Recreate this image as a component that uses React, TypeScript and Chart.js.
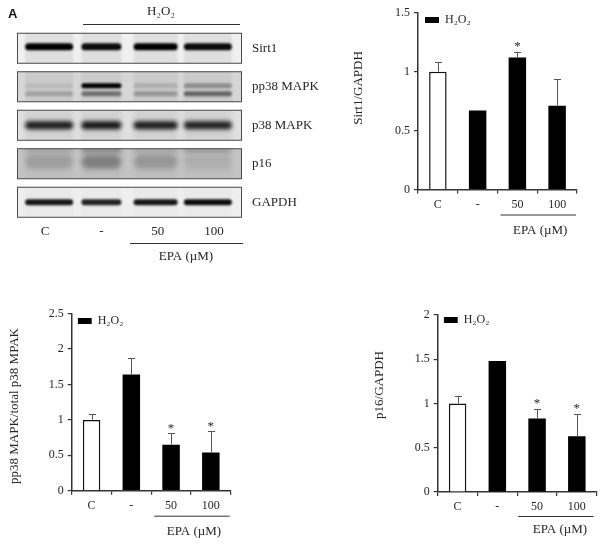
import React, { useEffect, useRef } from "react";
import { Chart, registerables } from "chart.js";

Chart.register(...registerables);

const SERIF = '"Liberation Serif", "Times New Roman", serif';
const INK = "#262626";

// ---- bar chart values ----
const doseLabels = ["C", "-", "50", "100"];

const sirt1Control = [1.0, null, null, null];
const sirt1Treated = [null, 0.67, 1.12, 0.71];
const sirt1ErrorTop = [1.085, 0.67, 1.17, 0.935];
const sirt1Stars = [false, false, true, false];

const ppControl = [1.0, null, null, null];
const ppTreated = [null, 1.64, 0.65, 0.54];
const ppErrorTop = [1.09, 1.88, 0.81, 0.84];
const ppStars = [false, false, true, true];

const p16Control = [1.0, null, null, null];
const p16Treated = [null, 1.48, 0.83, 0.63];
const p16ErrorTop = [1.085, 1.48, 0.94, 0.885];
const p16Stars = [false, false, true, true];

// ---- blot values (band darkness, 0..1, per lane) ----
const blotProteins = ["Sirt1", "pp38 MAPK", "p38 MAPK", "p16", "GAPDH"];
const sirt1Band = [1, 0.95, 1, 0.95];
const ppUpperBand = [0.08, 1, 0.14, 0.3];
const ppLowerBand = [0.2, 0.45, 0.26, 0.5];
const p38Band = [0.88, 0.9, 0.88, 0.85];
const p16TopBand = [0.4, 0.8, 0.35, 0.55];
const p16MainBand = [0.16, 0.32, 0.2, 0.08];
const gapdhBand = [0.9, 0.85, 0.9, 0.95];

const laneShift = [4, 0, -2, -6];
const laneWidth = [48, 40, 44, 48];

const blotRows = [
  { bg: "#f0f0f0", haze: 0.07, blur: 1.2, bands: [{ v: sirt1Band, dy: -1.5, h: 7 }] },
  { bg: "#d6d6d6", haze: 0.05, blur: 1.3, bands: [{ v: ppUpperBand, dy: -1, h: 5 }, { v: ppLowerBand, dy: 7, h: 5 }] },
  { bg: "#e0e0e0", haze: 0.06, blur: 2, bands: [{ v: p38Band, dy: 0, h: 8 }] },
  { bg: "#c4c4c4", haze: 0.03, blur: 2.5, bands: [{ v: p16TopBand, dy: -14, h: 2 }, { v: p16MainBand, dy: -2, h: 14 }] },
  { bg: "#efefef", haze: 0.02, blur: 1.2, bands: [{ v: gapdhBand, dy: 0, h: 6 }] },
];

const blotPlugin = {
  id: "blot",
  beforeDatasetsDraw(chart: any) {
    const { ctx, chartArea, scales } = chart;
    const half = 15.5;
    blotRows.forEach((row, r) => {
      const yc = scales.y.getPixelForValue(r);
      const x0 = chartArea.left;
      const w = chartArea.right - chartArea.left;
      ctx.save();
      ctx.beginPath();
      ctx.rect(x0, yc - half, w, half * 2);
      ctx.clip();
      ctx.fillStyle = row.bg;
      ctx.fillRect(x0, yc - half, w, half * 2);
      ctx.filter = `blur(${row.blur}px)`;
      doseLabels.forEach((_, lane) => {
        const cx = scales.x.getPixelForValue(lane) + laneShift[lane];
        const lw = laneWidth[lane];
        ctx.fillStyle = `rgba(0,0,0,${row.haze})`;
        ctx.fillRect(cx - lw / 2, yc - half, lw, half * 2);
        row.bands.forEach((b) => {
          ctx.fillStyle = `rgba(0,0,0,${b.v[lane]})`;
          ctx.beginPath();
          ctx.roundRect(cx - lw / 2, yc + b.dy - b.h / 2, lw, b.h, b.h / 2);
          ctx.fill();
        });
      });
      ctx.restore();
      ctx.save();
      ctx.strokeStyle = "#4a4a4a";
      ctx.lineWidth = 1;
      ctx.strokeRect(x0 + 0.5, yc - half + 0.5, w - 1, half * 2 - 1);
      ctx.restore();
    });
    // panel heading
    ctx.save();
    ctx.fillStyle = "#111";
    ctx.font = `bold 13px "Liberation Sans", sans-serif`;
    ctx.textAlign = "left";
    ctx.textBaseline = "middle";
    ctx.fillText("A", 8, 14);
    ctx.fillStyle = INK;
    ctx.font = `13px ${SERIF}`;
    ctx.textAlign = "center";
    ctx.fillText("H₂O₂", 161, 12);
    ctx.fillText("EPA (µM)", 186, 257);
    ctx.strokeStyle = "#333";
    ctx.lineWidth = 1;
    ctx.beginPath();
    ctx.moveTo(83, 24.5);
    ctx.lineTo(240, 24.5);
    ctx.moveTo(130, 243.5);
    ctx.lineTo(243, 243.5);
    ctx.stroke();
    ctx.restore();
  },
};

const annotatePlugin = {
  id: "annotate",
  afterLayout(chart: any) {
    const o = chart.options.plugins.annotate;
    const l = chart.legend;
    l.left += o.legendDx;
    l.right += o.legendDx;
    l.top += o.legendDy;
    l.bottom += o.legendDy;
  },
  afterDatasetsDraw(chart: any) {
    const o = chart.options.plugins.annotate;
    const { ctx, scales } = chart;
    const { x, y } = scales;
    ctx.save();
    ctx.strokeStyle = "#555";
    ctx.lineWidth = 1;
    o.errorTop.forEach((top: number, i: number) => {
      const base =
        (chart.data.datasets[0].data[i] ?? chart.data.datasets[1].data[i]) as number;
      if (top <= base) return;
      const px = Math.round(x.getPixelForValue(i)) + 0.5;
      const pt = Math.round(y.getPixelForValue(top)) + 0.5;
      ctx.beginPath();
      ctx.moveTo(px, y.getPixelForValue(base));
      ctx.lineTo(px, pt);
      ctx.moveTo(px - 3.5, pt);
      ctx.lineTo(px + 3.5, pt);
      ctx.stroke();
    });
    ctx.fillStyle = INK;
    ctx.font = `13px ${SERIF}`;
    ctx.textAlign = "center";
    ctx.textBaseline = "middle";
    o.stars.forEach((s: boolean, i: number) => {
      if (!s) return;
      ctx.fillText("*", x.getPixelForValue(i), y.getPixelForValue(o.errorTop[i]) - 5);
    });
    // EPA bracket
    const cat = x.getPixelForValue(1) - x.getPixelForValue(0);
    const x0 = x.getPixelForValue(2) - cat / 2 + 3 - o.bracketInset;
    const x1 = x.getPixelForValue(3) + cat / 2 - 1 - o.bracketInset;
    ctx.strokeStyle = "#333";
    ctx.beginPath();
    ctx.moveTo(x0, y.bottom + 25.5 - o.bracketLift);
    ctx.lineTo(x1, y.bottom + 25.5 - o.bracketLift);
    ctx.stroke();
    ctx.font = `13px ${SERIF}`;
    ctx.fillText("EPA (µM)", (x0 + x1) / 2 + 2 + o.bracketInset, y.bottom + 41 - o.bracketLift * 3);
    // y title
    ctx.save();
    ctx.translate(o.titleX, o.titleY);
    ctx.rotate(-Math.PI / 2);
    ctx.fillText(o.yTitle, 0, 0);
    ctx.restore();
    ctx.restore();
  },
};

function barConfig(p: any) {
  return {
    type: "bar",
    plugins: [annotatePlugin],
    data: {
      labels: doseLabels,
      datasets: [
        { label: "Control", data: p.control, backgroundColor: "#ffffff", borderColor: "#111", borderWidth: 1.5 },
        { label: "H₂O₂", data: p.treated, backgroundColor: "#000000", borderColor: "#000", borderWidth: 0 },
      ],
    },
    options: {
      animation: false,
      responsive: false,
      devicePixelRatio: 1,
      layout: { padding: { top: p.top, right: p.w - p.right, left: 0, bottom: 0 } },
      datasets: { bar: { barPercentage: 0.44, categoryPercentage: 1 } },
      plugins: {
        tooltip: { enabled: false },
        legend: {
          position: "chartArea",
          align: "start",
          labels: {
            boxWidth: 14,
            boxHeight: 6,
            padding: 0,
            color: INK,
            font: { family: SERIF, size: 12 },
            filter: (item: any) => item.datasetIndex === 1,
          },
        },
        annotate: {
          errorTop: p.errorTop,
          stars: p.stars,
          yTitle: p.yTitle,
          titleX: p.titleX,
          titleY: p.titleY,
          legendDx: p.legendDx,
          legendDy: p.legendDy,
          bracketInset: p.bracketInset ?? 0,
          bracketLift: p.bracketLift ?? 0,
        },
      },
      scales: {
        x: {
          stacked: true,
          grid: { display: true, drawOnChartArea: false, drawTicks: true, tickLength: 4, color: "#333", lineWidth: 1.2 },
          border: { display: true, color: "#333", width: 1.5 },
          ticks: { color: INK, font: { family: SERIF, size: 12 }, padding: 4, maxRotation: 0 },
          afterFit: (s: any) => { s.height = p.h - p.bottom; },
        },
        y: {
          stacked: false,
          min: 0,
          max: p.max,
          grid: { display: true, drawOnChartArea: false, drawTicks: true, tickLength: 4, color: "#333", lineWidth: 1.2 },
          border: { display: true, color: "#333", width: 1.5 },
          ticks: {
            stepSize: 0.5,
            color: INK,
            font: { family: SERIF, size: 12 },
            padding: 4,
            callback: (v: any) => String(v),
          },
          afterFit: (s: any) => { s.width = p.left; },
        },
      },
    },
  };
}

const blotConfig: any = {
  type: "bar",
  plugins: [blotPlugin],
  data: { labels: doseLabels, datasets: [{ label: "blot", data: [] }] },
  options: {
    animation: false,
    responsive: false,
    devicePixelRatio: 1,
    layout: { padding: { left: 17, top: 29 } },
    plugins: { legend: { display: false }, tooltip: { enabled: false } },
    scales: {
      x: {
        grid: { display: false },
        border: { display: false },
        ticks: { color: INK, font: { family: SERIF, size: 13 }, padding: -6, maxRotation: 0 },
        afterFit: (s: any) => { s.height = 270 - 221.5; },
      },
      y: {
        type: "category",
        position: "right",
        offset: true,
        labels: blotProteins,
        grid: { display: false },
        border: { display: false },
        ticks: { color: INK, font: { family: SERIF, size: 13 }, padding: 2, crossAlign: "near" },
        afterFit: (s: any) => { s.width = 330 - 242; },
      },
    },
  },
};

const panels: any[] = [
  {
    key: "blot", x: 0, y: 0, w: 330, h: 270, config: blotConfig,
  },
  {
    key: "sirt1", x: 340, y: 0, w: 262, h: 250,
    config: barConfig({
      w: 262, h: 250, left: 78, right: 237, top: 12.7, bottom: 189.5, max: 1.5,
      control: sirt1Control, treated: sirt1Treated, errorTop: sirt1ErrorTop, stars: sirt1Stars,
      yTitle: "Sirt1/GAPDH", titleX: 19, titleY: 88, legendDx: 7, legendDy: 14,
    }),
  },
  {
    key: "pp38", x: 0, y: 295, w: 280, h: 249,
    config: barConfig({
      w: 280, h: 249, left: 71.7, right: 230.7, top: 18.7, bottom: 195.7, max: 2.5,
      control: ppControl, treated: ppTreated, errorTop: ppErrorTop, stars: ppStars,
      yTitle: "pp38 MAPK/total p38 MPAK", titleX: 15, titleY: 111, legendDx: 6, legendDy: 20,
    }),
  },
  {
    key: "p16", x: 370, y: 295, w: 232, h: 249,
    config: barConfig({
      w: 232, h: 249, left: 67.7, right: 226.7, top: 20, bottom: 197, max: 2,
      control: p16Control, treated: p16Treated, errorTop: p16ErrorTop, stars: p16Stars,
      yTitle: "p16/GAPDH", titleX: 10, titleY: 90, legendDx: 6, legendDy: 19,
      bracketInset: 2, bracketLift: 1,
    }),
  },
];

function Panel({ p }: { p: any }) {
  const ref = useRef<HTMLCanvasElement | null>(null);
  useEffect(() => {
    const chart = new Chart(ref.current as HTMLCanvasElement, p.config);
    return () => chart.destroy();
  }, [p]);
  return (
    <canvas
      ref={ref}
      width={p.w}
      height={p.h}
      style={{ position: "absolute", left: p.x, top: p.y, width: p.w, height: p.h, display: "block" }}
    />
  );
}

export default function App() {
  return (
    <div style={{ position: "absolute", left: 0, top: 0, width: 602, height: 544, background: "#fff", overflow: "hidden" }}>
      {panels.map((p) => (
        <Panel key={p.key} p={p} />
      ))}
    </div>
  );
}
